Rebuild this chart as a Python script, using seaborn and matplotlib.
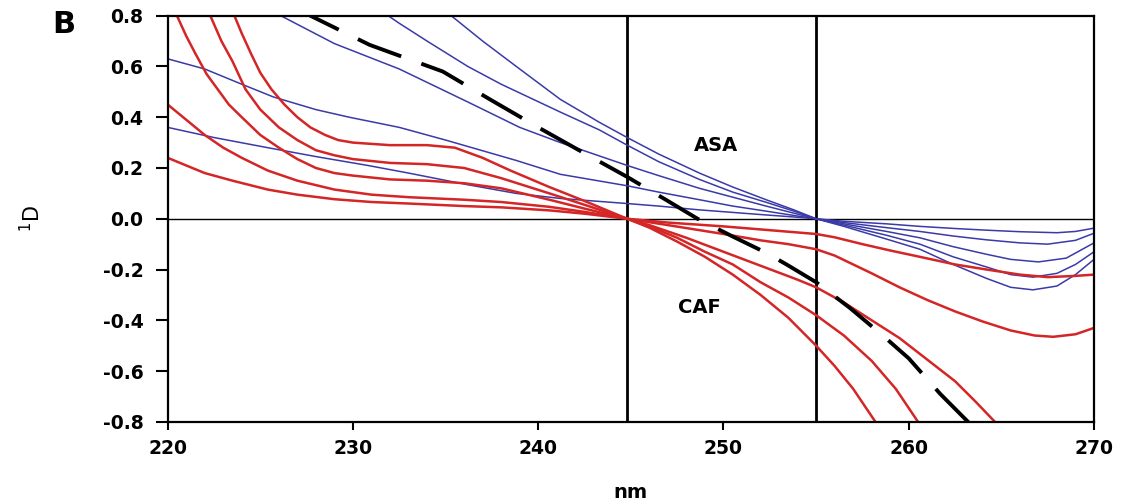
import pandas as pd
import matplotlib
matplotlib.use("Agg")
import matplotlib.pyplot as plt
import seaborn as sns

# ----- first-derivative spectra (1D) ----- #
# CAF series (red)
caf1_nm = [223.3, 223.6, 224.0, 224.5, 225.0, 225.6, 226.3, 227, 227.7, 228.5, 229.2, 230, 232, 234, 235.5,
           237, 238.5, 240.6, 242.5, 244.8, 246, 247.5, 249, 250.5, 252, 253.5, 255, 256, 257, 258.2, 258.6]
caf1_d = [0.86, 0.80, 0.73, 0.65, 0.575, 0.51, 0.45, 0.40, 0.36, 0.33, 0.31, 0.30, 0.29, 0.29, 0.28,
          0.24, 0.19, 0.125, 0.07, 0.0, -0.035, -0.09, -0.15, -0.22, -0.30, -0.39, -0.50, -0.58, -0.67, -0.80, -0.84]
caf2_nm = [222.0, 222.3, 222.9, 223.5, 224.2, 225, 226, 227, 228, 229, 230, 232, 234, 236, 238, 240.6,
           242.5, 244.8, 246, 247.5, 249, 250.5, 252, 253.5, 255, 256.5, 258, 259.3, 260.5, 260.9]
caf2_d = [0.87, 0.80, 0.70, 0.62, 0.51, 0.43, 0.36, 0.31, 0.27, 0.25, 0.235, 0.22, 0.215, 0.20, 0.16, 0.10,
          0.055, 0.0, -0.03, -0.075, -0.13, -0.18, -0.25, -0.31, -0.38, -0.46, -0.56, -0.67, -0.80, -0.84]
caf3_nm = [220.2, 220.5, 221, 221.5, 222.1, 222.7, 223.3, 224, 225, 226, 227, 228, 229, 230, 232, 234, 236,
           238, 240.6, 242.5, 244.8, 246, 248, 250, 252, 254, 255, 256.5, 258, 259.5, 261, 262.5, 263.6,
           264.65, 265]
caf3_d = [0.86, 0.80, 0.72, 0.65, 0.57, 0.51, 0.45, 0.40, 0.33, 0.28, 0.235, 0.20, 0.18, 0.17, 0.155, 0.15,
          0.14, 0.12, 0.075, 0.04, 0.0, -0.025, -0.075, -0.13, -0.185, -0.24, -0.27, -0.33, -0.40, -0.47,
          -0.555, -0.64, -0.72, -0.80, -0.83]
caf4_nm = [220, 221, 222, 223, 224, 225.4, 227, 229, 231, 233, 236, 238, 240.6, 242.5, 244.8, 247, 250,
           252, 253.5, 255, 256, 257, 258, 259.5, 261, 262.5, 264, 265.5, 266.8, 267.8, 269, 270]
caf4_d = [0.45, 0.39, 0.33, 0.28, 0.24, 0.19, 0.15, 0.115, 0.095, 0.085, 0.075, 0.066, 0.047, 0.027, 0.0,
          -0.025, -0.06, -0.085, -0.10, -0.12, -0.145, -0.18, -0.215, -0.27, -0.32, -0.365, -0.405, -0.44,
          -0.46, -0.465, -0.455, -0.43]
caf5_nm = [220, 221, 222, 223.5, 225.4, 227, 229, 231, 233, 236, 238, 240.6, 242.5, 244.8, 247, 250,
           252.5, 255, 256, 257.5, 259, 260.6, 262.5, 264.2, 266, 267.5, 269, 270]
caf5_d = [0.24, 0.21, 0.18, 0.15, 0.115, 0.095, 0.077, 0.066, 0.06, 0.05, 0.045, 0.033, 0.02, 0.0,
          -0.015, -0.03, -0.045, -0.06, -0.073, -0.10, -0.125, -0.15, -0.18, -0.20, -0.22, -0.23, -0.225, -0.22]

# ASA series (blue)
asa1_nm = [235.0, 235.3, 237, 239, 241.2, 243.3, 244.8, 246.5, 248.7, 250.5, 252.3, 253.8, 255,
           256.5, 258.8, 260.6, 262.4, 264.2, 265.5, 266.7, 268, 269, 270]
asa1_d = [0.82, 0.80, 0.70, 0.59, 0.47, 0.38, 0.32, 0.255, 0.18, 0.125, 0.075, 0.035, 0.0,
          -0.03, -0.08, -0.12, -0.18, -0.235, -0.27, -0.28, -0.265, -0.22, -0.16]
asa2_nm = [231.5, 231.9, 232.5, 234, 236.2, 238, 241.2, 243.3, 244.8, 246.5, 248.7, 250.5, 252.3, 253.8, 255,
           256.5, 258.8, 260.6, 262.4, 264.2, 265.5, 266.7, 268, 269, 270]
asa2_d = [0.82, 0.80, 0.77, 0.70, 0.60, 0.53, 0.42, 0.35, 0.29, 0.225, 0.155, 0.105, 0.065, 0.03, 0.0,
          -0.025, -0.065, -0.10, -0.15, -0.19, -0.22, -0.23, -0.215, -0.18, -0.13]
asa3_nm = [225.5, 226.1, 229, 232.5, 236.2, 239, 241.2, 243, 244.8, 246.5, 248.7, 250.5, 252.3, 253.8, 255,
           256.5, 258.8, 260.6, 262.4, 264.2, 265.5, 267, 268.5, 270]
asa3_d = [0.82, 0.80, 0.69, 0.59, 0.46, 0.36, 0.30, 0.255, 0.21, 0.17, 0.12, 0.085, 0.05, 0.022, 0.0,
          -0.02, -0.05, -0.075, -0.11, -0.14, -0.16, -0.17, -0.155, -0.095]
asa4_nm = [220, 222, 224, 225.7, 228, 229.8, 232.5, 235, 238.8, 241.2, 244.8, 246.5, 248.7, 250.5, 252.3,
           253.8, 255, 256.5, 258.8, 260.6, 262.4, 264.2, 266, 267.5, 269, 270]
asa4_d = [0.63, 0.59, 0.53, 0.48, 0.43, 0.40, 0.36, 0.31, 0.23, 0.175, 0.13, 0.105, 0.075, 0.05, 0.03,
          0.013, 0.0, -0.015, -0.035, -0.05, -0.068, -0.083, -0.095, -0.10, -0.085, -0.057]
asa5_nm = [220, 222.5, 225.4, 228, 230.8, 233, 236.2, 238.8, 241.2, 244.8, 246.5, 248.7, 250.5, 252.3,
           253.8, 255, 256.5, 258.8, 260.6, 262.4, 264.2, 266, 268, 269, 270]
asa5_d = [0.36, 0.32, 0.28, 0.245, 0.21, 0.18, 0.134, 0.10, 0.08, 0.06, 0.05, 0.035, 0.025, 0.015,
          0.007, 0.0, -0.01, -0.02, -0.03, -0.038, -0.045, -0.051, -0.055, -0.05, -0.037]

# mixture (black dashed)
mix_nm = [227.0, 227.7, 230.9, 234.85, 237.4, 240, 242.2, 244.8, 247, 248.6, 250.5, 252.3, 253.4,
          255, 256.8, 258.6, 260, 261.7, 263.2, 263.5]
mix_d = [0.83, 0.80, 0.685, 0.58, 0.47, 0.36, 0.27, 0.165, 0.07, 0.0, -0.07, -0.134, -0.18,
         -0.25, -0.35, -0.46, -0.55, -0.69, -0.80, -0.82]

zero_points = [244.8, 255.0]

curves = {
    'CAF1': (caf1_nm, caf1_d, 'CAF'), 'CAF2': (caf2_nm, caf2_d, 'CAF'),
    'CAF3': (caf3_nm, caf3_d, 'CAF'), 'CAF4': (caf4_nm, caf4_d, 'CAF'),
    'CAF5': (caf5_nm, caf5_d, 'CAF'),
    'ASA1': (asa1_nm, asa1_d, 'ASA'), 'ASA2': (asa2_nm, asa2_d, 'ASA'),
    'ASA3': (asa3_nm, asa3_d, 'ASA'), 'ASA4': (asa4_nm, asa4_d, 'ASA'),
    'ASA5': (asa5_nm, asa5_d, 'ASA'),
}
df = pd.DataFrame([[k, g, x, y] for k, (xs, ys, g) in curves.items() for x, y in zip(xs, ys)],
                  columns=['curve', 'drug', 'nm', 'D'])

sns.set_style('ticks')
plt.rcParams['font.family'] = ['DejaVu Sans']
plt.rcParams['axes.unicode_minus'] = False
for key in ['text.color', 'axes.labelcolor', 'xtick.color', 'ytick.color', 'axes.edgecolor']:
    plt.rcParams[key] = 'black'

fig = plt.figure(figsize=(11.33, 5.01), dpi=100)
ax = fig.add_axes([0.148, 0.158, 0.8176, 0.8107])

sns.lineplot(data=df[df['drug'] == 'ASA'], x='nm', y='D', units='curve', estimator=None,
             sort=False, color='#3a3aa8', linewidth=1.1, ax=ax, legend=False)
sns.lineplot(data=df[df['drug'] == 'CAF'], x='nm', y='D', units='curve', estimator=None,
             sort=False, color='#d42626', linewidth=1.8, ax=ax, legend=False)
sns.lineplot(x=mix_nm, y=mix_d, sort=False, color='black', linewidth=2.8,
             dashes=False, ax=ax).lines[-1].set_dashes((12, 5.5))

ax.axhline(0, color='black', linewidth=1.0, zorder=1)
for xv in zero_points:
    ax.axvline(xv, color='black', linewidth=2.0, zorder=1)

ax.set_xlim(220, 270)
ax.set_ylim(-0.8, 0.8)
ax.set_xticks([220, 230, 240, 250, 260, 270])
ax.set_yticks([-0.8, -0.6, -0.4, -0.2, 0.0, 0.2, 0.4, 0.6, 0.8])
ax.set_yticklabels([f'{v:.1f}' for v in ax.get_yticks()])
ax.tick_params(axis='y', length=8.5, width=1.5, pad=9, labelsize=13.5, colors='black')
ax.tick_params(axis='x', length=6, width=1.5, pad=6, labelsize=13.5, colors='black')
for lab in ax.get_xticklabels() + ax.get_yticklabels():
    lab.set_fontweight('bold')
for sp in ax.spines.values():
    sp.set_linewidth(1.6)
    sp.set_color('black')
    sp.set_visible(True)

ax.set_xlabel('nm', fontsize=14, fontweight='bold')
ax.xaxis.set_label_coords(0.5, -0.15)
ax.set_ylabel(r'$^{1}$D', fontsize=15)
ax.yaxis.set_label_coords(-0.133, 0.5)

ax.text(249.6, 0.287, 'ASA', fontsize=14, fontweight='bold', ha='center', va='center')
ax.text(248.7, -0.35, 'CAF', fontsize=14, fontweight='bold', ha='center', va='center')
fig.text(0.0565, 0.952, 'B', fontsize=22, fontweight='bold', ha='center', va='center')

fig.savefig('out.png', dpi=100)
